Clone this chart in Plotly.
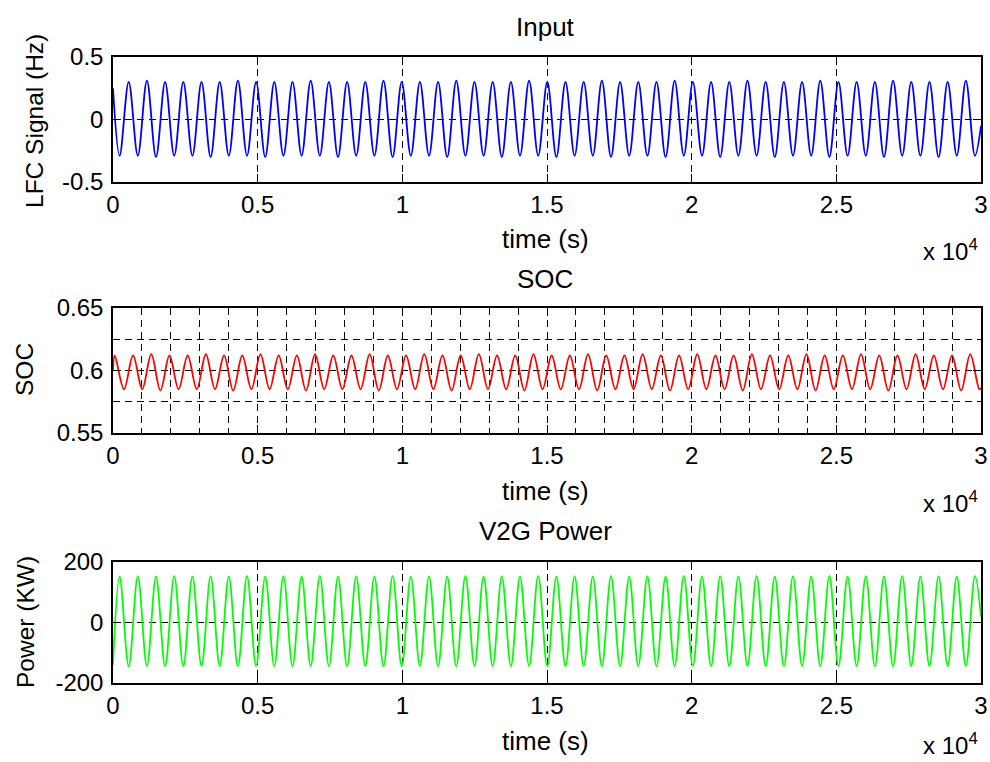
import plotly.graph_objects as go

# ---------------- data ----------------
# times (s) of the turning points of the input / V2G power curves
t_input = [0,
    229, 543, 858, 1172, 1487, 1801, 2116, 2430, 2745, 3059,
    3374, 3688, 4003, 4317, 4632, 4946, 5261, 5575, 5890, 6204,
    6519, 6833, 7148, 7462, 7777, 8091, 8406, 8720, 9035, 9349,
    9664, 9978, 10293, 10607, 10922, 11236, 11551, 11865, 12180, 12494,
    12809, 13123, 13438, 13752, 14067, 14381, 14696, 15010, 15325, 15639,
    15954, 16268, 16583, 16897, 17212, 17526, 17841, 18155, 18470, 18784,
    19099, 19413, 19728, 20042, 20357, 20671, 20986, 21300, 21615, 21929,
    22244, 22558, 22873, 23187, 23502, 23816, 24131, 24445, 24760, 25074,
    25389, 25703, 26018, 26332, 26647, 26961, 27276, 27590, 27905, 28219,
    28534, 28848, 29163, 29477, 29792,
    30000]

lfc_signal = [0.25,
    -0.29, 0.30, -0.29, 0.31, -0.30, 0.30, -0.29, 0.30, -0.29, 0.30,
    -0.30, 0.30, -0.29, 0.31, -0.29, 0.30, -0.30, 0.30, -0.29, 0.30,
    -0.29, 0.31, -0.29, 0.30, -0.30, 0.30, -0.29, 0.30, -0.29, 0.31,
    -0.30, 0.30, -0.29, 0.30, -0.29, 0.30, -0.30, 0.31, -0.29, 0.30,
    -0.29, 0.30, -0.30, 0.30, -0.29, 0.31, -0.29, 0.30, -0.30, 0.30,
    -0.29, 0.30, -0.29, 0.31, -0.30, 0.30, -0.29, 0.30, -0.29, 0.30,
    -0.30, 0.31, -0.29, 0.30, -0.29, 0.30, -0.30, 0.30, -0.29, 0.31,
    -0.29, 0.30, -0.30, 0.30, -0.29, 0.30, -0.29, 0.31, -0.30, 0.30,
    -0.29, 0.30, -0.29, 0.30, -0.30, 0.31, -0.29, 0.30, -0.29, 0.30,
    -0.30, 0.30, -0.29, 0.31, -0.29,
    -0.05]

v2g_power = [-140,
    152, -145, 153, -144, 152, -145, 154, -145, 152, -144,
    153, -145, 152, -145, 154, -144, 152, -145, 153, -145,
    152, -144, 154, -145, 152, -145, 153, -144, 152, -145,
    154, -145, 152, -144, 153, -145, 152, -145, 154, -144,
    152, -145, 153, -145, 152, -144, 154, -145, 152, -145,
    153, -144, 152, -145, 154, -145, 152, -144, 153, -145,
    152, -145, 154, -144, 152, -145, 153, -145, 152, -144,
    154, -145, 152, -145, 153, -144, 152, -145, 154, -145,
    152, -144, 153, -145, 152, -145, 154, -144, 152, -145,
    153, -145, 152, -144, 154,
    20]

# times (s) of the turning points of the SOC curve
t_soc = [0, 62,
    380, 694, 1009, 1323, 1638, 1952, 2267, 2581, 2896, 3210,
    3525, 3839, 4154, 4468, 4783, 5097, 5412, 5726, 6041, 6355,
    6670, 6984, 7299, 7613, 7928, 8242, 8557, 8871, 9186, 9500,
    9815, 10129, 10444, 10758, 11073, 11387, 11702, 12016, 12331, 12645,
    12960, 13274, 13589, 13903, 14218, 14532, 14847, 15161, 15476, 15790,
    16105, 16419, 16734, 17048, 17363, 17677, 17992, 18306, 18621, 18935,
    19250, 19564, 19879, 20193, 20508, 20822, 21137, 21451, 21766, 22080,
    22395, 22709, 23024, 23338, 23653, 23967, 24282, 24596, 24911, 25225,
    25540, 25854, 26169, 26483, 26798, 27112, 27427, 27741, 28056, 28370,
    28685, 28999, 29314, 29628, 29943,
    30000]

soc = [0.600, 0.612,
    0.585, 0.612, 0.585, 0.613, 0.584, 0.612, 0.585, 0.612, 0.585, 0.613,
    0.585, 0.612, 0.584, 0.612, 0.585, 0.613, 0.585, 0.612, 0.585, 0.612,
    0.584, 0.613, 0.585, 0.612, 0.585, 0.612, 0.585, 0.613, 0.584, 0.612,
    0.585, 0.612, 0.585, 0.613, 0.585, 0.612, 0.584, 0.612, 0.585, 0.613,
    0.585, 0.612, 0.585, 0.612, 0.584, 0.613, 0.585, 0.612, 0.585, 0.612,
    0.585, 0.613, 0.584, 0.612, 0.585, 0.612, 0.585, 0.613, 0.585, 0.612,
    0.584, 0.612, 0.585, 0.613, 0.585, 0.612, 0.585, 0.612, 0.584, 0.613,
    0.585, 0.612, 0.585, 0.612, 0.585, 0.613, 0.584, 0.612, 0.585, 0.612,
    0.585, 0.613, 0.585, 0.612, 0.584, 0.612, 0.585, 0.613, 0.585, 0.612,
    0.585, 0.612, 0.584, 0.613, 0.585,
    0.586]

x_tick_vals = [0, 5000, 10000, 15000, 20000, 25000, 30000]
x_tick_text = ['0', '0.5', '1', '1.5', '2', '2.5', '3']
y1_tick_vals = [-0.5, 0, 0.5]
y1_tick_text = ['-0.5', '0', '0.5']
y2_tick_vals = [0.55, 0.6, 0.65]
y2_tick_text = ['0.55', '0.6', '0.65']
y3_tick_vals = [-200, 0, 200]
y3_tick_text = ['-200', '0', '200']

titles = ['Input', 'SOC', 'V2G Power']
y_titles = ['LFC Signal (Hz)', 'SOC', 'Power (KW)']
x_title = 'time (s)'

# ---------------- figure ----------------
W, H = 990, 762
FONT = 'Liberation Sans, Arial, sans-serif'
FS_TICK = 24
FS_TXT = 26
FS_Y = 24.5
DASH = '7px,5px'

def px_x(v):
    return v / W

def px_y(v):
    return 1 - v / H

xdom = [px_x(113), px_x(981)]
ydoms = [[px_y(182), px_y(57)], [px_y(433), px_y(308)], [px_y(683), px_y(562)]]

fig = go.Figure()
fig.add_trace(go.Scatter(x=t_input, y=lfc_signal, mode='lines',
                         line=dict(color='#0000ff', width=1.8, shape='spline'),
                         xaxis='x', yaxis='y', showlegend=False, hoverinfo='skip'))
fig.add_trace(go.Scatter(x=t_soc, y=soc, mode='lines',
                         line=dict(color='#ff0000', width=1.8, shape='spline'),
                         xaxis='x2', yaxis='y2', showlegend=False, hoverinfo='skip'))
fig.add_trace(go.Scatter(x=t_input, y=v2g_power, mode='lines',
                         line=dict(color='#00ff00', width=1.8, shape='spline'),
                         xaxis='x3', yaxis='y3', showlegend=False, hoverinfo='skip'))

def xaxis(anchor, minor=False):
    d = dict(domain=xdom, anchor=anchor, range=[0, 30000],
             tickmode='array', tickvals=x_tick_vals, ticktext=x_tick_text,
             ticks='inside', ticklen=8, tickcolor='black', tickwidth=1,
             showline=True, linecolor='black', linewidth=1.5, mirror='ticks',
             showgrid=True, gridcolor='black', gridwidth=1, griddash=DASH,
             zeroline=False, automargin=False,
             tickfont=dict(family=FONT, size=FS_TICK, color='black'))
    if minor:
        d['minor'] = dict(tick0=0, dtick=1000, showgrid=True, gridcolor='black',
                          gridwidth=1, griddash=DASH, ticks='')
    return d

def yaxis(anchor, dom, rng, tv, tt, minor_dtick=None):
    d = dict(domain=dom, anchor=anchor, range=rng,
             tickmode='array', tickvals=tv, ticktext=tt,
             ticks='inside', ticklen=8, tickcolor='black', tickwidth=1,
             showline=True, linecolor='black', linewidth=1.5, mirror='ticks',
             showgrid=True, gridcolor='black', gridwidth=1, griddash=DASH,
             zeroline=False, automargin=False, ticklabelstandoff=3,
             tickfont=dict(family=FONT, size=FS_TICK, color='black'))
    if minor_dtick:
        d['minor'] = dict(tick0=rng[0], dtick=minor_dtick, showgrid=True, gridcolor='black',
                          gridwidth=1, griddash=DASH, ticks='')
    return d

fig.update_layout(
    width=W, height=H, autosize=False,
    margin=dict(l=0, r=0, t=0, b=0, pad=0),
    paper_bgcolor='white', plot_bgcolor='white',
    xaxis=xaxis('y'),
    yaxis=yaxis('x', ydoms[0], [-0.5, 0.5], y1_tick_vals, y1_tick_text),
    xaxis2=xaxis('y2', minor=True),
    yaxis2=yaxis('x2', ydoms[1], [0.55, 0.65], y2_tick_vals, y2_tick_text, 0.025),
    xaxis3=xaxis('y3'),
    yaxis3=yaxis('x3', ydoms[2], [-200, 200], y3_tick_vals, y3_tick_text),
)

ann = []
title_y = [27, 279, 531]
xtitle_y = [239, 491, 741]
exp_bottom = [267, 519, 761]
ytitle_x = [35, 25, 25]
ytitle_y = [121, 370, 622]
for i in range(3):
    ann.append(dict(text=titles[i], x=px_x(545), y=px_y(title_y[i]), xref='paper', yref='paper',
                    xanchor='center', yanchor='middle', showarrow=False,
                    font=dict(family=FONT, size=FS_TXT, color='black')))
    ann.append(dict(text=x_title, x=px_x(545), y=px_y(xtitle_y[i]), xref='paper', yref='paper',
                    xanchor='center', yanchor='middle', showarrow=False,
                    font=dict(family=FONT, size=FS_TXT, color='black')))
    ann.append(dict(text='x 10<sup>4</sup>', x=px_x(980), y=px_y(exp_bottom[i]), xref='paper', yref='paper',
                    xanchor='right', yanchor='bottom', showarrow=False,
                    font=dict(family=FONT, size=FS_TICK, color='black')))
    ann.append(dict(text=y_titles[i], x=px_x(ytitle_x[i]), y=px_y(ytitle_y[i]), xref='paper', yref='paper',
                    xanchor='center', yanchor='middle', textangle=-90, showarrow=False,
                    font=dict(family=FONT, size=FS_Y, color='black')))
fig.update_layout(annotations=ann)

fig.write_html("out.html", config={'displayModeBar': False},
               post_script="document.body.style.margin='0';document.body.style.overflow='hidden';document.documentElement.style.overflow='hidden';")
